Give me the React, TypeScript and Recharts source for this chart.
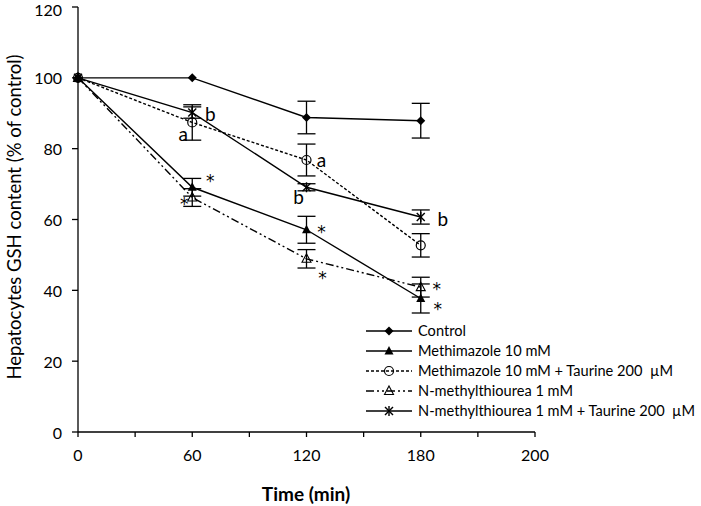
import React from 'react';
import {
  LineChart,
  Line,
  XAxis,
  YAxis,
  ErrorBar,
  Legend,
  LabelList,
} from 'recharts';

// x axis is a category axis: evenly spaced, points sit on the ticks
const TIME_LABELS = ['0', '60', '120', '180', '200'];
const TIME_INDEX = [0, 1, 2, 3];

const control = [100, 100, 88.8, 87.9];
const controlErr = [0, 0, 4.6, 4.9];
const mmz = [100, 69.1, 57.1, 37.7];
const mmzErr = [0, 2.5, 3.8, 4.1];
const mmzTau = [100, 87.4, 76.8, 52.7];
const mmzTauErr = [0, 5.0, 4.5, 3.3];
const nmtu = [100, 66.2, 48.9, 40.9];
const nmtuErr = [0, 2.5, 2.6, 2.8];
const nmtuTau = [100, 90.2, 69.1, 60.7];
const nmtuTauErr = [0, 1.6, 1.0, 2.0];

// significance letters
const mmzMarks = ['', '*', '*', '*'];
const mmzTauMarks = ['', 'a', 'a', ''];
const nmtuMarks = ['', '*', '*', '*'];
const nmtuTauMarks = ['', 'b', 'b', 'b'];

const Y_TICKS = [0, 20, 40, 60, 80, 100, 120];
const X_TICKS = [0, 0.5, 1, 1.5, 2, 2.5, 3, 3.5, 4];

const FONT = 'Lato, "Open Sans", sans-serif';
const INK = '#000';

const data = TIME_INDEX.map((t, i) => ({
  t,
  control: control[i],
  controlErr: controlErr[i],
  mmz: mmz[i],
  mmzErr: mmzErr[i],
  mmzTau: mmzTau[i],
  mmzTauErr: mmzTauErr[i],
  nmtu: nmtu[i],
  nmtuErr: nmtuErr[i],
  nmtuTau: nmtuTau[i],
  nmtuTauErr: nmtuTauErr[i],
  mmzMark: mmzMarks[i],
  mmzTauMark: mmzTauMarks[i],
  nmtuMark: nmtuMarks[i],
  nmtuTauMark: nmtuTauMarks[i],
}));

// label placement (pixel offsets from the point), per series and time
const MARK_OFFSETS: Record<string, [number, number][]> = {
  mmzMark: [[0, 0], [18, -9], [15, -1], [17, 8]],
  mmzTauMark: [[0, 0], [-9, 11], [15, -1], [0, 0]],
  nmtuMark: [[0, 0], [-8, 3], [16, 16], [16, -1]],
  nmtuTauMark: [[0, 0], [18, 1], [-8, 9], [22, 1]],
};

type MarkerKind = 'diamond' | 'triangle' | 'circle' | 'openTriangle' | 'star';

function marker(kind: MarkerKind, cx: number, cy: number, key?: string) {
  switch (kind) {
    case 'diamond':
      return (
        <polygon key={key} points={`${cx},${cy - 4.5} ${cx + 4.5},${cy} ${cx},${cy + 4.5} ${cx - 4.5},${cy}`} fill={INK} />
      );
    case 'triangle':
      return (
        <polygon key={key} points={`${cx},${cy - 5} ${cx + 4.5},${cy + 3.5} ${cx - 4.5},${cy + 3.5}`} fill={INK} />
      );
    case 'circle':
      return <circle key={key} cx={cx} cy={cy} r={4.5} fill="none" stroke={INK} strokeWidth={1.2} />;
    case 'openTriangle':
      return (
        <polygon
          key={key}
          points={`${cx},${cy - 5} ${cx + 4.5},${cy + 3.5} ${cx - 4.5},${cy + 3.5}`}
          fill="none"
          stroke={INK}
          strokeWidth={1.1}
        />
      );
    case 'star':
      return (
        <g key={key} stroke={INK} strokeWidth={1.4}>
          <line x1={cx - 4} y1={cy - 4} x2={cx + 4} y2={cy + 4} />
          <line x1={cx - 4} y1={cy + 4} x2={cx + 4} y2={cy - 4} />
          <line x1={cx} y1={cy - 5} x2={cx} y2={cy + 5} />
        </g>
      );
  }
}

const SERIES = [
  { key: 'control', name: 'Control', kind: 'diamond' as MarkerKind, dash: undefined },
  { key: 'mmz', name: 'Methimazole 10 mM', kind: 'triangle' as MarkerKind, dash: undefined },
  { key: 'mmzTau', name: 'Methimazole 10 mM + Taurine 200  \u00b5M', kind: 'circle' as MarkerKind, dash: '3 2' },
  { key: 'nmtu', name: 'N-methylthiourea 1 mM', kind: 'openTriangle' as MarkerKind, dash: '8 3 2 3 2 3' },
  { key: 'nmtuTau', name: 'N-methylthiourea 1 mM + Taurine 200  \u00b5M', kind: 'star' as MarkerKind, dash: undefined },
];

const XTick = (props: any) => {
  const { x, y, payload } = props;
  if (!Number.isInteger(payload.value)) return null;
  return (
    <text x={x} y={y + 22} textAnchor="middle" fontFamily={FONT} fontSize={16} fill={INK}>
      {TIME_LABELS[payload.value]}
    </text>
  );
};

// keep the top label inside the picture
const YTick = (props: any) => {
  const { x, y, payload } = props;
  return (
    <text x={x} y={Math.max(y, 9)} textAnchor="end" dominantBaseline="central" fontFamily={FONT} fontSize={16} fill={INK}>
      {payload.value}
    </text>
  );
};

const markLabel = (field: string) => (props: any) => {
  const { x, y, value, index } = props;
  if (!value) return null;
  const [dx, dy] = MARK_OFFSETS[field][index];
  const star = value === '*';
  return (
    <text
      x={x + dx}
      y={y + dy + (star ? 3 : 0)}
      textAnchor="middle"
      dominantBaseline="central"
      fontFamily={star ? '"DejaVu Sans", sans-serif' : FONT}
      fontSize={star ? 17 : 19}
      fill={INK}
    >
      {value}
    </text>
  );
};

const LegendBox = () => (
  <div style={{ fontFamily: FONT, fontSize: 14.6, color: INK, lineHeight: '20px' }}>
    {SERIES.map((s) => (
      <div key={s.key} style={{ display: 'flex', alignItems: 'center', height: 20, whiteSpace: 'pre' }}>
        <svg width={48} height={20} style={{ flexShrink: 0 }}>
          <line x1={0} y1={10} x2={46} y2={10} stroke={INK} strokeWidth={1.4} strokeDasharray={s.dash} />
          {marker(s.kind, 23, 10)}
        </svg>
        <span style={{ marginLeft: 4 }}>{s.name}</span>
      </div>
    ))}
  </div>
);

export default function App() {
  return (
    <div style={{ width: 701, height: 506, background: '#fff' }}>
      <style>{'body{margin:0}'}</style>
      <LineChart width={701} height={506} data={data} margin={{ top: 7, right: 166, left: 0, bottom: 0 }}>
        <XAxis
          dataKey="t"
          type="number"
          domain={[0, 4]}
          ticks={X_TICKS}
          interval={0}
          height={74}
          tick={<XTick />}
          tickSize={5}
          axisLine={{ stroke: INK, strokeWidth: 1.3 }}
          tickLine={{ stroke: INK, strokeWidth: 1.3 }}
          label={{
            content: () => (
              <text x={306} y={501} textAnchor="middle" fontFamily={FONT} fontSize={19} fontWeight="bold" fill={INK}>
                Time (min)
              </text>
            ),
          }}
        />
        <YAxis
          type="number"
          domain={[0, 120]}
          ticks={Y_TICKS}
          interval={0}
          width={78}
          tickSize={6}
          tickMargin={10}
          tick={<YTick />}
          axisLine={{ stroke: INK, strokeWidth: 1.3 }}
          tickLine={{ stroke: INK, strokeWidth: 1.3 }}
          label={{
            content: () => (
              <text
                x={14}
                y={217}
                transform="rotate(-90, 14, 217)"
                textAnchor="middle"
                dominantBaseline="central"
                fontFamily={FONT}
                fontSize={18.5}
                fill={INK}
              >
                Hepatocytes GSH content (% of control)
              </text>
            ),
          }}
        />
        <Legend
          layout="vertical"
          align="center"
          verticalAlign="middle"
          content={<LegendBox />}
          wrapperStyle={{ position: 'absolute', left: 366, top: 321, width: 335 }}
        />
        {SERIES.map((s) => (
          <Line
            key={s.key}
            dataKey={s.key}
            name={s.name}
            stroke={INK}
            strokeWidth={1.4}
            strokeDasharray={s.dash}
            isAnimationActive={false}
            dot={(p: any) => marker(s.kind, p.cx, p.cy, `${s.key}-${p.index}`)}
            activeDot={false}
          >
            <ErrorBar dataKey={`${s.key}Err`} width={9} stroke={INK} strokeWidth={1.3} direction="y" />
            {s.key !== 'control' && (
              <LabelList dataKey={`${s.key}Mark`} content={markLabel(`${s.key}Mark`)} />
            )}
          </Line>
        ))}
      </LineChart>
    </div>
  );
}
